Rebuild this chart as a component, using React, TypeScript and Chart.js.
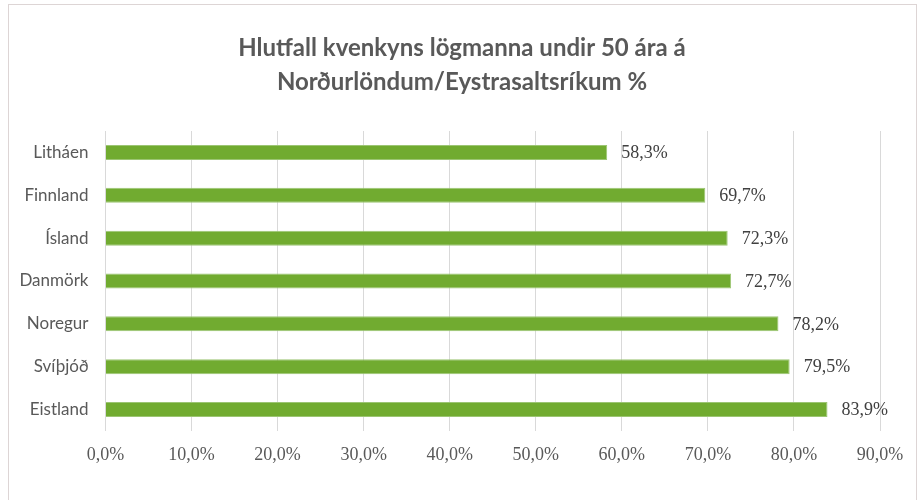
import React, { useEffect, useRef } from "react";
import { Chart, registerables } from "chart.js";

Chart.register(...registerables);

const titleLines = ["Hlutfall kvenkyns lögmanna undir 50 ára á", "Norðurlöndum/Eystrasaltsríkum %"];
const categories = ["Litháen", "Finnland", "Ísland", "Danmörk", "Noregur", "Svíþjóð", "Eistland"];
const values = [58.3, 69.7, 72.3, 72.7, 78.2, 79.5, 83.9];
const xMin = 0;
const xMax = 90;
const xStep = 10;

const fmt = (v: number) => v.toFixed(1).replace(".", ",") + "%";

const valueLabelPlugin = {
  id: "valueLabels",
  afterDatasetsDraw(chart: any) {
    const ctx = chart.ctx;
    const meta = chart.getDatasetMeta(0);
    ctx.save();
    ctx.font = "18px 'Liberation Serif'";
    ctx.fillStyle = "#404040";
    ctx.textAlign = "left";
    ctx.textBaseline = "middle";
    meta.data.forEach((bar: any, i: number) => {
      ctx.fillText(fmt(values[i]), bar.x + 14, bar.y + 1);
    });
    ctx.restore();
  },
};

const centeredTitlePlugin = {
  id: "centeredTitle",
  afterDraw(chart: any) {
    const ctx = chart.ctx;
    ctx.save();
    ctx.font = "bold 24px Lato";
    ctx.fillStyle = "#595959";
    ctx.textAlign = "center";
    ctx.textBaseline = "middle";
    const cx = chart.width / 2 + 1;
    titleLines.forEach((line, i) => {
      ctx.fillText(line, cx, 48 + i * 34);
    });
    ctx.restore();
  },
};

export default function App() {
  const ref = useRef<HTMLCanvasElement>(null);
  useEffect(() => {
    if (!ref.current) return;
    const chart = new Chart(ref.current, {
      type: "bar",
      data: {
        labels: categories,
        datasets: [
          {
            data: values,
            backgroundColor: "#71AB30",
            borderColor: "#9CC573",
            borderWidth: 1,
            borderSkipped: "start",
            categoryPercentage: 1,
            barPercentage: 0.35,
          },
        ],
      },
      options: {
        indexAxis: "y",
        animation: false,
        responsive: false,
        layout: { padding: { left: 0, right: 42, top: 131, bottom: 0 } },
        plugins: {
          legend: { display: false },
          tooltip: { enabled: false },
          title: { display: false },
        },
        scales: {
          x: {
            min: xMin,
            max: xMax,
            ticks: {
              stepSize: xStep,
              color: "#595959",
              font: { family: "'Liberation Serif'", size: 18 },
              padding: 13,
              maxRotation: 0,
              callback: (v: any) => fmt(Number(v)),
            },
            grid: { color: "#D9D9D9", drawTicks: false },
            border: { display: false },
            afterFit: (s: any) => {
              s.height = 69;
            },
          },
          y: {
            ticks: { color: "#595959", font: { family: "Lato", size: 17 }, padding: 17 },
            grid: { display: false, drawTicks: false },
            border: { display: false },
            afterFit: (s: any) => {
              s.width = 105.5;
            },
          },
        },
      },
      plugins: [valueLabelPlugin, centeredTitlePlugin],
    });
    return () => chart.destroy();
  }, []);
  return (
    <div style={{ position: "absolute", left: 0, top: 0, width: 922, height: 500, background: "#fff", overflow: "hidden" }}>
      <canvas ref={ref} width={922} height={500} style={{ position: "absolute", left: 0, top: 0 }} />
      <div
        style={{
          position: "absolute",
          left: 8,
          top: 4,
          width: 909,
          height: 520,
          border: "1.5px solid #DDD5D5",
          boxSizing: "border-box",
          pointerEvents: "none",
        }}
      />
    </div>
  );
}
